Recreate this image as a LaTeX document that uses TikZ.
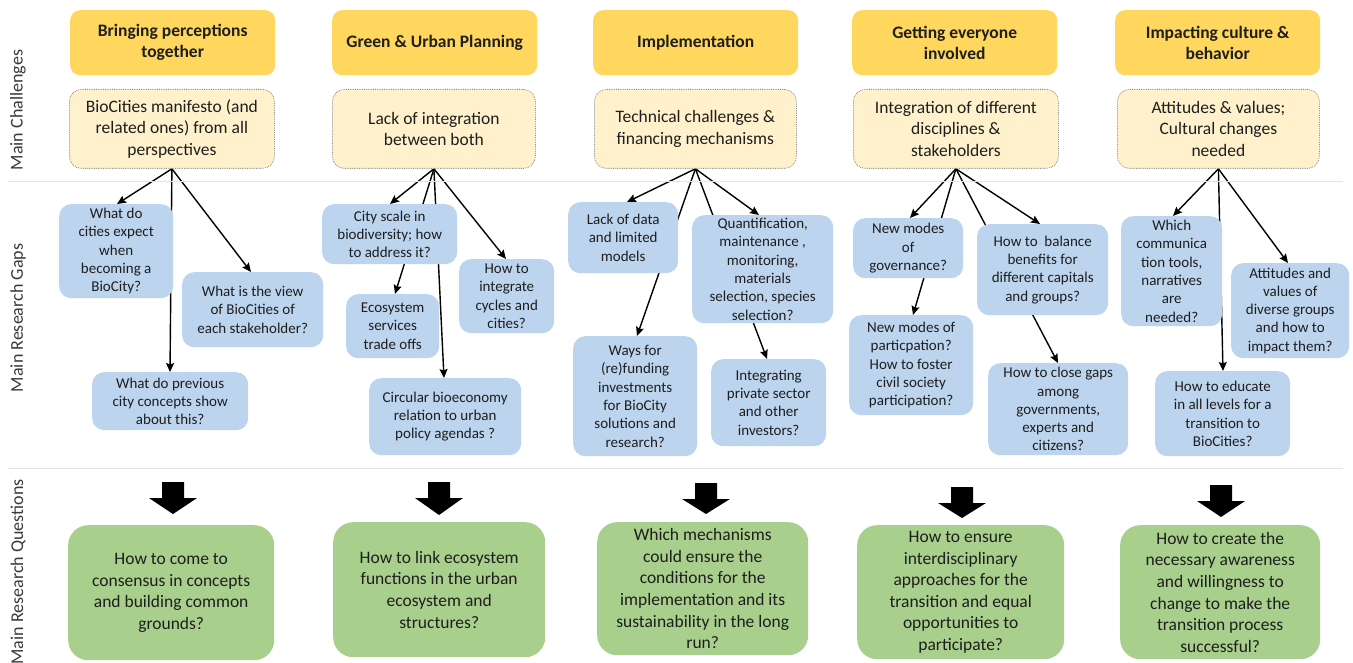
\documentclass[tikz,border=0pt]{standalone}
\usepackage{fontspec}
\setmainfont{Carlito}
\usetikzlibrary{arrows.meta,calc}
\pgfdeclarelayer{canvas}
\pgfdeclarelayer{background}
\pgfsetlayers{canvas,background,main}
\definecolor{hdr}{HTML}{FFD75E}
\definecolor{chl}{HTML}{FFF1CC}
\definecolor{chb}{HTML}{8C8C8C}
\definecolor{gapc}{HTML}{BCD4EE}
\definecolor{qst}{HTML}{A8CF8C}
\definecolor{txt}{HTML}{1E1E1E}
\definecolor{lblc}{HTML}{3A3A3A}
\definecolor{sep}{HTML}{E4E4E4}
\newcommand\bx[7]{\node[#2, minimum width={#5-#3}, minimum height={#6-#4}, anchor=north west] (#1) at (#3,#4) {#7};}
\newcommand\barrow[3]{\fill[black] (#1-11,#2) -- (#1+11,#2) -- (#1+11,#2+16) -- (#1+24,#2+16) -- (#1,#3) -- (#1-24,#2+16) -- (#1-11,#2+16) -- cycle;}
\begin{document}
\begin{tikzpicture}[x=1pt,y=-1pt,
  base/.style={align=center, inner sep=0pt, text=txt},
  hdrbox/.style={base, fill=hdr, rounded corners=10pt, font=\fontsize{17.5}{21}\selectfont\bfseries},
  chlbox/.style={base, fill=chl, draw=chb, densely dotted, line width=0.8pt, rounded corners=12pt, font=\fontsize{17.5}{21.3}\selectfont},
  gapbox/.style={base, fill=gapc, rounded corners=12pt, font=\fontsize{15}{18.3}\selectfont},
  qbox/.style={base, fill=qst, rounded corners=20pt, font=\fontsize{17.5}{21.6}\selectfont},
  rowlbl/.style={rotate=90, text=lblc, font=\fontsize{18}{21}\selectfont, inner sep=0pt},
  con/.style={draw=black, line width=1.4pt, -{Stealth[length=9pt,width=8pt,inset=1.5pt]}},
  sepline/.style={draw=sep, line width=1.2pt}]
\useasboundingbox (0,0) rectangle (1353,663);
\begin{pgfonlayer}{canvas}
\fill[white] (0,0) rectangle (1353,663);
\end{pgfonlayer}
% separators
\draw[sepline] (8,181.5) -- (1343,181.5);
\draw[sepline] (8,468.5) -- (1343,468.5);
% row labels
\node[rowlbl] (l1) at (18,110) {Main Challenges};
\node[rowlbl] (l2) at (18,318) {Main Research Gaps};
\node[rowlbl] (l3) at (18,572) {Main Research Questions};
% headers
\bx{h1}{hdrbox}{70}{10}{275}{75}{Bringing perceptions\\together}
\bx{h2}{hdrbox}{332}{10}{537}{75}{Green \& Urban Planning}
\bx{h3}{hdrbox}{593}{10}{798}{75}{Implementation}
\bx{h4}{hdrbox}{852}{10}{1057}{75}{Getting everyone\\involved}
\bx{h5}{hdrbox}{1115}{10}{1320}{75}{Impacting culture \&\\behavior}
% challenges
\bx{c1}{chlbox}{69}{89}{274}{168}{BioCities manifesto (and\\related ones) from all\\perspectives}
\bx{c2}{chlbox}{332}{89}{535}{168}{Lack of integration\\between both}
\bx{c3}{chlbox}{594}{89}{796}{168}{Technical challenges \&\\financing mechanisms}
\bx{c4}{chlbox}{853}{89}{1058}{168}{Integration of different\\disciplines \&\\stakeholders}
\bx{c5}{chlbox}{1117}{89}{1319}{168}{Attitudes \& values;\\Cultural changes\\needed}
% gaps column 1
\bx{g11}{gapbox}{59}{204}{173}{298}{What do\\cities expect\\when\\becoming a\\BioCity?}
\bx{g12}{gapbox}{182}{272}{323}{347}{What is the view\\of BioCities of\\each stakeholder?}
\bx{g13}{gapbox}{92}{372}{248}{430}{What do previous\\city concepts show\\about this?}
% gaps column 2
\bx{g21}{gapbox}{322}{204}{457}{264}{City scale in\\biodiversity; how\\to address it?}
\bx{g22}{gapbox}{346}{294}{439}{358}{Ecosystem\\services\\trade offs}
\bx{g23}{gapbox}{459}{259}{554}{333}{How to\\integrate\\cycles and\\cities?}
\bx{g24}{gapbox}{369}{378}{521}{455}{Circular bioeconomy\\relation to urban\\policy agendas ?}
% gaps column 3
\bx{g31}{gapbox}{568}{202}{678}{273}{Lack of data\\and limited\\models}
\bx{g32}{gapbox}{692}{215}{833}{323}{Quantification,\\maintenance ,\\monitoring,\\materials\\selection, species\\selection?}
\bx{g33}{gapbox}{573}{336}{697}{456}{Ways for\\(re)funding\\investments\\for BioCity\\solutions and\\research?}
\bx{g34}{gapbox}{711}{359}{826}{446}{Integrating\\private sector\\and other\\investors?}
% gaps column 4
\bx{g41}{gapbox}{853}{218}{963}{278}{New modes\\of\\governance?}
\bx{g42}{gapbox}{977}{224}{1108}{315}{How to\ \ balance\\benefits for\\different capitals\\and groups?}
\bx{g43}{gapbox}{849}{315}{973}{415}{New modes of\\particpation?\\How to foster\\civil society\\participation?}
\bx{g44}{gapbox}{988}{363}{1128}{455}{How to close gaps\\among\\governments,\\experts and\\citizens?}
% gaps column 5
\bx{g51}{gapbox}{1121}{216}{1222}{326}{Which\\communica\\tion tools,\\narratives\\are\\needed?}
\bx{g52}{gapbox}{1231}{263}{1349}{358}{Attitudes and\\values of\\diverse groups\\and how to\\impact them?}
\bx{g53}{gapbox}{1155}{371}{1290}{456}{How to educate\\in all levels for a\\transition to\\BioCities?}
% questions
\bx{q1}{qbox}{68}{525}{274}{660}{How to come to\\consensus in concepts\\and building common\\grounds?}
\bx{q2}{qbox}{333}{522}{545}{657}{How to link ecosystem\\functions in the urban\\ecosystem and\\structures?}
\bx{q3}{qbox}{597}{522}{808}{655}{Which mechanisms\\could ensure the\\conditions for the\\implementation and its\\sustainability in the long\\run?}
\bx{q4}{qbox}{857}{525}{1064}{659}{How to ensure\\interdisciplinary\\approaches for the\\transition and equal\\opportunities to\\participate?}
\bx{q5}{qbox}{1120}{525}{1320}{659}{How to create the\\necessary awareness\\and willingness to\\change to make the\\transition process\\successful?}
% block arrows
\barrow{173}{482}{514}
\barrow{439}{482}{515}
\barrow{706}{483}{514}
\barrow{962}{487}{518}
\barrow{1221}{485}{517}
% connectors
\begin{pgfonlayer}{background}
\draw[con] (c1.south) -- ($(g11.north west)+(58,0)$);
\draw[con] (c1.south) -- ($(g12.north west)+(69,0)$);
\draw[con] (c1.south) -- ($(g13.north west)+(78,0)$);
\draw[con] (c2.south) -- ($(g21.north west)+(68,0)$);
\draw[con] (c2.south) -- ($(g22.north west)+(49,0)$);
\draw[con] (c2.south) -- ($(g23.north west)+(47,0)$);
\draw[con] (c2.south) -- ($(g24.north west)+(75,0)$);
\draw[con] (c3.south) -- ($(g31.north west)+(59,0)$);
\draw[con] (c3.south) -- ($(g32.north west)+(67,0)$);
\draw[con] (c3.south) -- ($(g33.north west)+(64,0)$);
\draw[con] (c3.south) -- ($(g34.north west)+(56,0)$);
\draw[con] (c4.south) -- ($(g41.north west)+(57,0)$);
\draw[con] (c4.south) -- ($(g42.north west)+(63,0)$);
\draw[con] (c4.south) -- ($(g43.north west)+(64,0)$);
\draw[con] (c4.south) -- ($(g44.north west)+(70,0)$);
\draw[con] (c5.south) -- ($(g51.north west)+(52,0)$);
\draw[con] (c5.south) -- ($(g52.north west)+(57,0)$);
\draw[con] (c5.south) -- ($(g53.north west)+(68,0)$);
\end{pgfonlayer}
\end{tikzpicture}
\end{document}
